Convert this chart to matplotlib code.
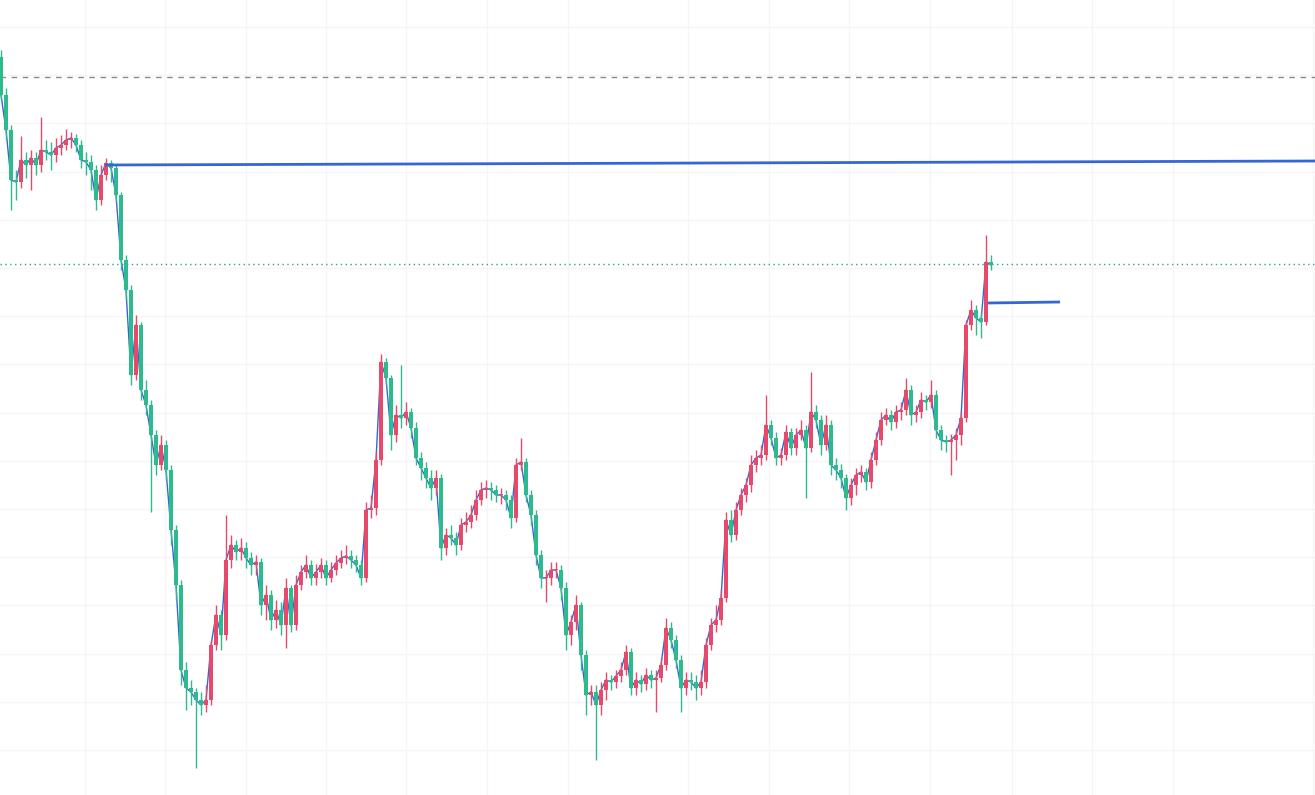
import numpy as np
import matplotlib
matplotlib.use("Agg")
import matplotlib.pyplot as plt

# price data (arbitrary units, no axis labels on the chart)
closes = [705, 670, 620, 618, 640, 635, 642, 635, 650, 648, 645, 652, 655, 660, 662, 655, 640, 638, 630, 600,
          625, 637, 632, 605, 540, 510, 425, 475, 410, 395, 365, 335, 355, 330, 270, 215, 130, 112, 108, 100,
          95, 100, 155, 185, 165, 240, 255, 248, 252, 242, 235, 238, 195, 205, 180, 190, 175, 212, 175, 215,
          228, 235, 222, 228, 235, 222, 230, 237, 242, 244, 240, 235, 222, 290, 292, 340, 438, 422, 365, 385,
          382, 388, 372, 342, 332, 322, 312, 322, 252, 265, 262, 255, 275, 278, 285, 300, 310, 312, 310, 305,
          305, 300, 282, 335, 338, 305, 285, 245, 222, 222, 230, 230, 212, 165, 178, 195, 145, 105, 108, 95,
          110, 120, 118, 124, 130, 148, 112, 120, 116, 125, 120, 122, 135, 172, 160, 140, 112, 120, 118, 112,
          118, 155, 175, 180, 202, 280, 265, 290, 305, 315, 335, 342, 345, 375, 362, 342, 345, 368, 352, 365,
          370, 352, 388, 380, 355, 375, 335, 330, 322, 302, 315, 325, 328, 318, 340, 360, 380, 385, 378, 388,
          390, 410, 385, 388, 400, 398, 405, 370, 360, 358, 360, 365, 382, 475, 490, 482, 478, 538, 535]

highs = [750, 712, 675, 630, 664, 648, 650, 648, 683, 660, 658, 662, 665, 671, 668, 666, 660, 648, 645, 635,
         635, 642, 640, 636, 608, 545, 515, 485, 478, 420, 400, 370, 365, 360, 335, 275, 220, 138, 120, 112,
         108, 115, 160, 195, 190, 285, 265, 260, 262, 258, 248, 245, 242, 215, 210, 200, 198, 222, 215, 225,
         235, 245, 240, 236, 242, 240, 238, 245, 250, 255, 250, 245, 240, 298, 305, 348, 446, 442, 425, 395,
         435, 398, 392, 378, 348, 338, 330, 330, 326, 272, 275, 268, 282, 288, 295, 310, 318, 320, 318, 315,
         312, 310, 305, 342, 362, 342, 310, 290, 250, 230, 238, 238, 235, 218, 185, 205, 198, 150, 115, 115,
         118, 128, 125, 130, 138, 155, 152, 128, 125, 132, 130, 130, 142, 182, 178, 165, 145, 128, 128, 125,
         130, 162, 182, 195, 210, 288, 290, 298, 312, 322, 345, 350, 355, 405, 380, 368, 352, 375, 372, 372,
         380, 375, 428, 395, 385, 385, 380, 342, 336, 326, 322, 332, 335, 332, 348, 368, 388, 392, 390, 395,
         398, 422, 415, 395, 408, 405, 420, 410, 375, 365, 366, 372, 388, 480, 500, 495, 488, 565, 545]

lows = [700, 660, 590, 600, 612, 622, 610, 625, 628, 640, 630, 638, 645, 650, 652, 648, 632, 625, 610, 590,
        595, 620, 618, 598, 530, 500, 415, 420, 400, 385, 288, 325, 330, 320, 255, 200, 115, 90, 95, 32,
        85, 88, 95, 150, 150, 160, 232, 240, 240, 232, 225, 225, 185, 180, 170, 172, 165, 152, 168, 170,
        210, 222, 215, 215, 222, 215, 218, 225, 232, 236, 232, 228, 215, 218, 282, 285, 335, 415, 350, 358,
        372, 375, 362, 335, 320, 312, 300, 305, 240, 245, 255, 245, 250, 268, 272, 280, 295, 302, 300, 298,
        296, 290, 272, 278, 330, 298, 275, 235, 212, 198, 215, 222, 200, 150, 155, 170, 130, 85, 95, 40,
        85, 100, 110, 112, 118, 125, 105, 105, 108, 110, 112, 88, 118, 130, 152, 132, 88, 105, 110, 100,
        105, 112, 150, 168, 175, 198, 258, 260, 285, 298, 308, 328, 335, 340, 355, 335, 335, 340, 345, 345,
        360, 302, 348, 372, 345, 350, 325, 320, 312, 290, 295, 305, 318, 310, 312, 335, 355, 375, 370, 372,
        380, 385, 375, 378, 382, 390, 392, 362, 350, 348, 325, 340, 355, 378, 470, 465, 462, 475, 530]

first_open = 743
opens = [first_open] + closes[:-1]

# drawn lines: (start bar, start price, end bar, end price)
trend_lines = [(20.8, 635, 263.0, 639), (197.4, 497, 211.8, 498)]
dashed_level = 723
dotted_level = 536

grid_x = [16.8, 32.8, 49.0, 65.0, 81.0, 97.2, 113.4, 137.4, 153.6, 169.6, 185.8, 202.2, 218.2, 234.4, 262.4]
grid_y = 773 - 48.2 * np.arange(16)

up_col = '#e8496a'
down_col = '#2dba8c'
line_col = '#3566d6'

fig = plt.figure(figsize=(13.15, 7.95), dpi=100)
ax = fig.add_axes([0, 0, 1, 1])

o = np.array(opens)
c = np.array(closes)
h = np.array(highs)
l = np.array(lows)
x = np.arange(len(c))
colors = np.where(c >= o, up_col, down_col)

for gx in grid_x:
    ax.axvline(gx, color='#f5f5f7', lw=1, zorder=0)
for gy in grid_y:
    ax.axhline(gy, color='#f5f5f7', lw=1, zorder=0)

ax.axhline(dashed_level, color='#8a8a8a', lw=1, ls=(0, (4, 4)), zorder=1)
ax.axhline(dotted_level, color='#26a69a', lw=1, ls=(0, (1, 2.5)), zorder=1)

ax.plot(x, c, color=line_col, lw=1, zorder=2)

ax.vlines(x, l, h, colors=colors, lw=1, zorder=3)
body_bottom = np.minimum(o, c)
body_height = np.maximum(np.abs(c - o), 1.2)
ax.bar(x, body_height, bottom=body_bottom, width=0.75, color=colors, zorder=4, linewidth=0)

for x0, y0, x1, y1 in trend_lines:
    ax.plot([x0, x1], [y0, y1], color=line_col, lw=2, zorder=5, solid_capstyle='butt')

ax.set_xlim(-0.2, 262.8)
ax.set_ylim(5, 800)
ax.axis('off')

fig.savefig('out.png', dpi=100, facecolor='white')
